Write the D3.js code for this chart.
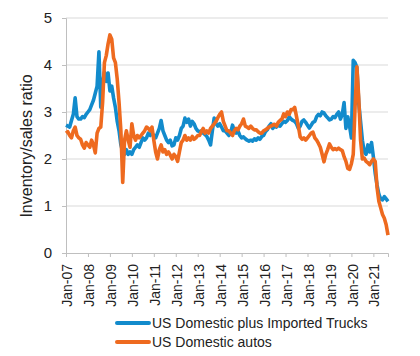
<!DOCTYPE html>
<html><head><meta charset="utf-8">
<script src="https://cdn.jsdelivr.net/npm/d3@7"></script>
<style>body{margin:0;background:#fff}svg text{font-family:"Liberation Sans",Arial,sans-serif;fill:#222}</style>
</head><body><svg id="c" width="420" height="356"></svg>
<script>
const startYear = 2007;
const yTicks = [0, 1, 2, 3, 4, 5];
const xTickLabels = ["Jan-07","Jan-08","Jan-09","Jan-10","Jan-11","Jan-12","Jan-13","Jan-14","Jan-15","Jan-16","Jan-17","Jan-18","Jan-19","Jan-20","Jan-21"];
const seriesNames = ["US Domestic plus Imported Trucks", "US Domestic autos"];
// monthly, Jan-07 .. Sep-21
const trucks = [
2.72,2.70,2.68,2.82,2.95,3.30,2.90,2.85,2.85,2.90,2.88,2.95,
3.00,3.05,3.15,3.25,3.40,3.55,4.28,3.10,3.60,3.85,3.65,3.83,
3.45,3.55,3.30,3.10,2.80,2.60,2.30,2.15,2.10,2.20,2.10,2.15,
2.10,2.20,2.25,2.30,2.25,2.35,2.45,2.40,2.45,2.55,2.50,2.55,
2.50,2.45,2.55,2.65,2.82,2.60,2.50,2.40,2.35,2.40,2.28,2.30,
2.45,2.40,2.50,2.65,2.70,2.87,2.78,2.85,2.70,2.80,2.75,2.65,
2.60,2.58,2.60,2.55,2.52,2.48,2.40,2.30,2.60,2.87,2.75,2.70,
2.75,2.68,2.60,2.60,2.55,2.50,2.55,2.72,2.60,2.55,2.60,2.50,
2.45,2.47,2.43,2.40,2.38,2.40,2.38,2.43,2.40,2.45,2.42,2.48,
2.50,2.58,2.62,2.70,2.75,2.65,2.70,2.68,2.72,2.70,2.75,2.80,
2.78,2.82,2.90,2.85,2.82,2.80,2.75,2.65,2.70,2.80,2.83,2.78,
2.72,2.66,2.72,2.78,2.80,2.90,2.95,2.92,3.00,2.98,2.92,2.88,
2.83,2.85,2.90,2.88,2.95,3.00,2.85,2.95,3.20,2.65,2.90,2.70,
2.45,4.10,4.05,3.95,3.20,2.80,2.40,2.15,2.10,2.30,2.15,2.35,
2.05,1.70,1.45,1.25,1.15,1.13,1.20,1.15,1.10];
const autos = [
2.55,2.58,2.50,2.45,2.60,2.68,2.50,2.45,2.42,2.30,2.23,2.35,
2.30,2.25,2.40,2.30,2.13,2.55,2.65,2.68,3.20,4.05,4.20,4.45,
4.64,4.55,4.15,4.05,3.70,3.20,2.60,1.50,2.40,2.60,2.40,2.25,
2.75,2.50,2.40,2.50,2.45,2.50,2.55,2.60,2.68,2.65,2.60,2.68,
2.40,2.15,2.00,2.20,2.30,2.15,2.20,2.10,2.15,2.08,2.00,2.10,
2.05,1.95,2.15,2.35,2.40,2.50,2.40,2.45,2.40,2.48,2.42,2.45,
2.50,2.50,2.58,2.65,2.55,2.60,2.55,2.65,2.70,2.75,2.80,2.88,
2.95,3.00,2.80,2.70,2.60,2.60,2.55,2.50,2.60,2.65,2.62,2.70,
2.75,2.85,2.70,2.68,2.65,2.70,2.65,2.62,2.62,2.58,2.55,2.55,
2.60,2.62,2.65,2.68,2.70,2.72,2.74,2.70,2.78,2.82,2.85,2.96,
2.90,3.00,2.95,3.05,3.05,3.10,2.90,2.70,2.47,2.42,2.45,2.40,
2.45,2.50,2.55,2.57,2.45,2.40,2.33,2.25,2.10,1.94,2.10,2.20,
2.32,2.25,2.20,2.22,2.20,2.23,2.20,2.18,2.05,1.95,1.80,1.78,
1.90,2.10,3.10,3.96,3.30,2.40,2.00,2.02,1.95,1.92,1.88,1.95,
2.00,1.95,1.40,1.10,0.96,0.82,0.74,0.60,0.38];
const colors = ["#128bcc", "#ee6a1f"];

const svg = d3.select("#c");
const mLeft = 66, mRight = 388, mTop = 18, mBottom = 253;
const n = trucks.length;
const x = d3.scaleLinear().domain([0, n - 1]).range([mLeft, mRight]);
const y = d3.scaleLinear().domain([0, 5]).range([mBottom, mTop]);

// gridlines
svg.append("g").selectAll("line").data(yTicks.filter(d => d > 0)).join("line")
  .attr("x1", mLeft).attr("x2", mRight).attr("y1", d => y(d)).attr("y2", d => y(d))
  .attr("stroke", "#d9d9d9").attr("stroke-width", 1);

// y axis
const ya = svg.append("g").attr("transform", `translate(${mLeft},0)`)
  .call(d3.axisLeft(y).tickValues(yTicks).tickSize(4).tickPadding(10).tickFormat(d3.format("d")));
ya.select(".domain").attr("stroke", "#bfbfbf");
ya.selectAll(".tick line").attr("stroke", "#bfbfbf");
ya.selectAll(".tick text").style("font-size", "15px").attr("fill", "#222");

// x axis
const xTickIdx = xTickLabels.map((d, i) => i * 12);
const xa = svg.append("g").attr("transform", `translate(0,${mBottom})`)
  .call(d3.axisBottom(x).tickValues(xTickIdx).tickSize(4).tickFormat((d, i) => xTickLabels[i]));
xa.select(".domain").attr("stroke", "#bfbfbf");
xa.selectAll(".tick line").attr("stroke", "#bfbfbf");
xa.selectAll(".tick text").style("font-size", "14px").attr("fill", "#222")
  .attr("text-anchor", "end").attr("transform", "rotate(-90)")
  .attr("x", -11).attr("y", 0).attr("dy", "0.4em");

// y title
svg.append("text").attr("transform", "translate(32,146) rotate(-90)")
  .attr("text-anchor", "middle").style("font-size", "16px").text("Inventory/sales ratio");

// lines
const line = d3.line().x((d, i) => x(i)).y(d => y(d)).curve(d3.curveLinear);
[trucks, autos].forEach((s, k) => {
  svg.append("path").datum(s).attr("d", line).attr("fill", "none")
    .attr("stroke", colors[k]).attr("stroke-width", 3.6).attr("stroke-linejoin", "round");
});

// legend
const lg = svg.append("g");
seriesNames.forEach((nm, k) => {
  const ly = 323 + k * 19;
  lg.append("line").attr("x1", 117).attr("x2", 149).attr("y1", ly).attr("y2", ly)
    .attr("stroke", colors[k]).attr("stroke-width", 4).attr("stroke-linecap", "round");
  lg.append("text").attr("x", 152).attr("y", ly).attr("dy", "0.36em").style("font-size", "14px").text(nm);
});
</script></body></html>
